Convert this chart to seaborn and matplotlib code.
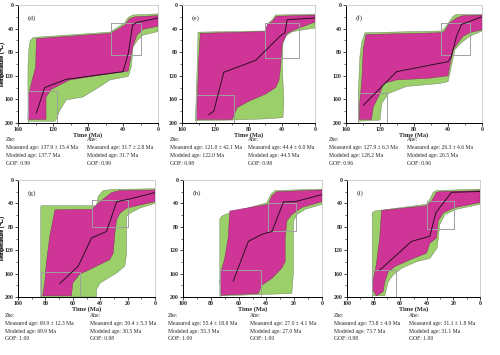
import numpy as np
import pandas as pd
import matplotlib
matplotlib.use("Agg")
import matplotlib.pyplot as plt
import seaborn as sns

sns.set_style("ticks")
plt.rcParams['font.family'] = ['Liberation Serif', 'DejaVu Serif', 'DejaVu Sans']

MAGENTA = "#CF3597"
GREEN = "#9BCF6A"
BOX = "#A0A0A0"

panel_labels = ["(d)", "(e)", "(f)", "(g)", "(h)", "(i)"]

# ---- panel (d) ----
d_green_t = [142.5, 55, 49.5, 38, 34, 28.5, 0, 0, 17, 23, 28.5, 30.5, 34, 55, 67, 86, 105, 112, 116, 118, 148.6, 148.6, 147.4, 146]
d_green_T = [55, 46, 41, 30, 21, 17, 15, 45, 51, 59, 71, 105, 121, 127, 139, 156, 161, 178, 193, 197, 197, 105, 71, 60]
d_mag_t = [139, 55, 49.5, 38, 33, 26.7, 0, 0, 17, 24, 29, 31.6, 34, 67, 101, 122, 128, 128, 148.6, 147.4, 144.8, 139.8]
d_mag_T = [57, 48, 44, 34, 24, 20, 18, 36, 41, 51, 71, 93, 112, 119, 127, 143, 156, 194, 194, 150, 133, 105]
d_best_t = [139, 129.5, 105, 40, 34, 29, 25, 0]
d_best_T = [183, 140, 126, 113, 82, 34, 30, 22]
d_boxes = [(149, 116, 145, 200), (54, 19, 31, 85)]

# ---- panel (e) ----
e_green_t = [140.7, 59.5, 56, 51.5, 47.4, 0, 0, 27, 34.6, 38.6, 39.4, 37.4, 38.6, 59.5, 99.7, 144, 143, 141.5]
e_green_T = [46, 44, 30.5, 25, 17, 15.5, 39, 45, 52, 65, 105, 163, 191, 193, 195, 196, 163, 94]
e_mag_t = [138, 60, 57.3, 51.5, 46.6, 0, 0, 23, 33.4, 39.4, 41.4, 43.4, 47.4, 59.5, 79.6, 93.7, 97.7, 99.7, 142.7, 141.5, 140]
e_mag_T = [48, 45, 33, 28, 19, 17, 29, 41, 48, 65, 105, 128, 140, 151, 163, 174, 188, 194, 194, 163, 94]
e_best_t = [127.8, 121.8, 109.7, 71.6, 41.4, 36.2, 33.4, 0]
e_best_T = [186, 180, 114, 94, 52, 47, 25, 22]
e_boxes = [(143, 98, 153, 200), (60, 19, 30, 89)]

# ---- panel (f) ----
f_green_t = [137.7, 47.7, 43.8, 34, 30, 0, 0, 14.5, 24.3, 32, 36, 40, 49.7, 88.8, 110, 118, 120, 145.5, 145.5, 143.6, 141.6]
f_green_T = [47, 44, 39, 19, 16, 16, 44, 53, 64, 76, 104, 130, 133, 138, 150, 167, 195, 197, 150, 87, 64]
f_mag_t = [136.5, 47.7, 43.8, 38, 30, 22.3, 0, 0, 14.5, 22.3, 28, 34, 38, 40, 61.4, 100.5, 116, 120, 128, 130, 144.4, 143.6, 141.6, 139.7]
f_mag_T = [50, 47, 44, 30, 22, 18, 17, 42, 47, 53, 64, 76, 104, 120, 124, 127, 133, 150, 173, 194, 194, 161, 133, 76]
f_best_t = [139.7, 100.5, 40, 36, 30, 24.3, 0]
f_best_T = [170, 113, 96, 87, 53, 33, 20]
f_boxes = [(146, 112, 149, 200), (48, 14, 30, 84)]

# ---- panel (g) ----
g_green_t = [83, 42.7, 41.5, 37.8, 30.5, 0, 0, 11, 18.3, 20.7, 20.7, 22, 28, 40, 42.7, 42.7, 83.4, 83.4]
g_green_T = [44, 44, 28, 18, 16, 15, 40, 48, 57, 62, 125, 147, 159, 176, 187, 200, 200, 45]
g_mag_t = [73, 46, 40, 31.7, 25.6, 0, 0, 20.7, 25.6, 28, 29.3, 30.5, 33, 47.6, 55, 60, 61, 82, 80.5, 79.3, 76.8]
g_mag_T = [51, 50, 37, 21.5, 18, 17, 37, 48, 57, 68, 91, 125, 136, 153, 161, 176, 198, 198, 176, 142, 96]
g_best_t = [69.5, 56, 46.3, 35.4, 28, 19.5, 0]
g_best_T = [177, 147, 99, 88, 37, 33, 21.5]
g_boxes = [(83, 55, 157, 200), (46, 20, 35, 80)]

# ---- panel (h) ----
h_green_t = [72.3, 68.7, 39.8, 36.6, 33.7, 0, 0, 12, 18, 20.5, 20.5, 21.7, 72.3, 73.5, 73.5]
h_green_T = [62, 58, 39, 24, 18, 15.6, 41.5, 50, 59, 70, 157, 194, 198, 198, 67]
h_mag_t = [66.3, 38.6, 36, 32.5, 0, 0, 14.5, 21.7, 25.3, 26.5, 26.5, 29, 36, 43.4, 45.8, 72.3, 73.5, 72.3, 70, 67.5]
h_mag_T = [53, 41.5, 27, 20, 17, 37, 47, 59, 70, 99, 139.5, 151, 168, 180, 194, 197, 174, 154, 134, 99]
h_best_t = [63.9, 53, 43.4, 36, 27.7, 19.3, 0]
h_best_T = [173, 105, 93, 88, 37.5, 37, 25]
h_boxes = [(73.5, 44, 154, 200), (38.5, 19, 39, 88)]

# ---- panel (i) ----
i_green_t = [79, 40.2, 37.7, 35.2, 32.7, 0, 0, 17.6, 26.4, 30.2, 32.2, 37.7, 47.7, 59, 65.3, 69, 71.6, 81, 81]
i_green_T = [53, 41.5, 33, 21, 18, 15.6, 41.5, 50, 59, 76, 116, 134, 139.5, 151, 162.5, 174, 198, 198, 56]
i_mag_t = [74, 40.2, 36.4, 32.7, 29, 0, 0, 18.8, 27.6, 31.4, 32.7, 37.7, 40.2, 52.8, 64, 69, 71.6, 72.9, 77.9, 81, 80, 78, 75.4]
i_mag_T = [52, 44, 36, 21, 19.6, 18.4, 38.6, 47, 56, 70, 99, 108, 125, 136.6, 148, 157, 174, 191, 198, 186, 168, 145, 99]
i_best_t = [75.4, 51.5, 37.7, 33.2, 21.4, 0]
i_best_T = [154, 105, 96, 56, 21, 19.6]
i_boxes = [(81, 63, 154, 200), (40, 19.6, 36, 83)]

zhe_measured = ["137.9 ± 15.4", "121.0 ± 42.1", "127.9 ± 6.3", "69.9 ± 12.3", "55.4 ± 18.8", "73.8 ± 4.0"]
zhe_modeled = ["137.7", "122.0", "128.2", "69.9", "55.3", "73.7"]
zhe_gof = ["0.99", "0.98", "0.96", "1.00", "1.00", "0.98"]
ahe_measured = ["31.7 ± 2.8", "44.4 ± 6.0", "26.3 ± 4.6", "30.4 ± 5.3", "27.0 ± 4.1", "31.1 ± 1.8"]
ahe_modeled = ["31.7", "44.5", "26.5", "30.5", "27.0", "31.1"]
ahe_gof = ["0.99", "0.98", "0.96", "0.98", "1.00", "1.00"]

x_max = [160, 160, 160, 100, 100, 100]

panels = [
    (d_green_t, d_green_T, d_mag_t, d_mag_T, d_best_t, d_best_T, d_boxes),
    (e_green_t, e_green_T, e_mag_t, e_mag_T, e_best_t, e_best_T, e_boxes),
    (f_green_t, f_green_T, f_mag_t, f_mag_T, f_best_t, f_best_T, f_boxes),
    (g_green_t, g_green_T, g_mag_t, g_mag_T, g_best_t, g_best_T, g_boxes),
    (h_green_t, h_green_T, h_mag_t, h_mag_T, h_best_t, h_best_T, h_boxes),
    (i_green_t, i_green_T, i_mag_t, i_mag_T, i_best_t, i_best_T, i_boxes),
]

W, H = 500, 355
fig = plt.figure(figsize=(5.0, 3.55), dpi=100)

# axes rectangles in pixels: left, top, right, bottom
rects = [(18, 5, 158, 123), (182, 5, 315, 123), (346, 5, 482, 123),
         (18, 180, 155, 297), (183, 180, 322, 297), (347, 180, 480, 297)]
# text column x positions (pixels)
zhe_x = [6, 170, 329, 5, 168, 334]
ahe_x = [87, 248, 407, 90, 250, 409]
text_y_top = [140, 148, 155.7, 163]
text_y_bot = [315.7, 324, 331.7, 339]

TXT = 4.1

for k, (gt, gT, mt, mT, bt, bT, boxes) in enumerate(panels):
    l, t, r, b = rects[k]
    ax = fig.add_axes([l / W, 1 - b / H, (r - l) / W, (b - t) / H])
    ax.fill(gt, gT, facecolor=GREEN, edgecolor="#66785a", linewidth=0.3, zorder=1)
    ax.fill(mt, mT, facecolor=MAGENTA, edgecolor="#7a2a5c", linewidth=0.3, zorder=2)
    for (t0, t1, T0, T1) in boxes:
        ax.plot([t0, t1, t1, t0, t0], [T0, T0, T1, T1, T0], color=BOX, lw=0.7, zorder=3)
    best = pd.DataFrame({"time": bt, "temp": bT})
    sns.lineplot(data=best, x="time", y="temp", sort=False, estimator=None,
                 color="#2a0f22", lw=0.7, ax=ax, zorder=4)
    xm = x_max[k]
    ax.set_xlim(xm, 0)
    ax.set_ylim(200, 0)
    step = 40 if xm == 160 else 20
    ax.set_xticks(np.arange(xm, -1, -step))
    ax.set_xticks(np.arange(xm, -1, -step / 2), minor=True)
    ax.set_yticks([0, 40, 80, 120, 160, 200])
    ax.set_yticks(np.arange(0, 201, 20), minor=True)
    ax.tick_params(axis="both", which="major", length=2.2, width=0.6, pad=1,
                   labelsize=4.2, direction="out")
    ax.tick_params(axis="both", which="minor", length=1.3, width=0.5, direction="out")
    for lab in ax.get_xticklabels() + ax.get_yticklabels():
        lab.set_fontweight("bold")
    ax.set_xlabel("Time (Ma)", fontsize=4.6, fontweight="bold", labelpad=0)
    ax.set_ylabel("Temperature (℃)", fontsize=4.6)
    ax.yaxis.set_label_coords((5.5 - l) / (r - l), 0.5)
    for s in ["left", "bottom"]:
        ax.spines[s].set_color("black")
        ax.spines[s].set_linewidth(0.7)
    for s in ["top", "right"]:
        ax.spines[s].set_color("#C8C8C8")
        ax.spines[s].set_linewidth(0.6)
    ax.text(0.07, 0.89, panel_labels[k], transform=ax.transAxes, fontsize=5.2,
            va="center", ha="left")

    ys = text_y_top if k < 3 else text_y_bot
    zl = ["Zhe:", f"Measured age: {zhe_measured[k]} Ma", f"Modeled age: {zhe_modeled[k]} Ma", f"GOF: {zhe_gof[k]}"]
    al = ["Ahe:", f"Measured age: {ahe_measured[k]} Ma", f"Modeled age: {ahe_modeled[k]} Ma", f"GOF: {ahe_gof[k]}"]
    for yy, s1, s2 in zip(ys, zl, al):
        fig.text(zhe_x[k] / W, 1 - yy / H, s1, fontsize=TXT, va="center", ha="left")
        fig.text(ahe_x[k] / W, 1 - yy / H, s2, fontsize=TXT, va="center", ha="left")

fig.savefig("out.png", dpi=100)
